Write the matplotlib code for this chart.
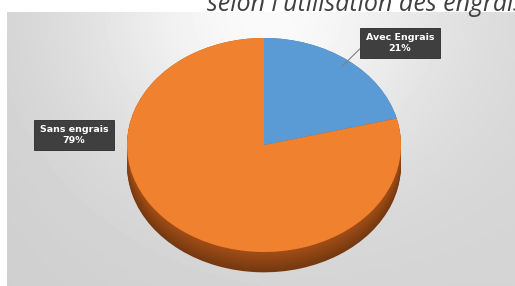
import matplotlib
matplotlib.use('Agg')
import matplotlib.pyplot as plt
import numpy as np

labels = ['Avec Engrais', 'Sans engrais']
shares = [21, 79]
top_colors = ['#5B9BD5', '#F0822F']
side_colors = ['#2F6BA8', '#A34E16']
title = "selon l'utilisation des engrais"

W, H = 515, 286
fig = plt.figure(figsize=(W / 100, H / 100), dpi=100)
fig.patch.set_facecolor('white')

# grey gradient panel behind the chart
bg = fig.add_axes([7 / W, 0, (W - 7) / W, (H - 12) / H])
yy, xx = np.mgrid[0:274, 0:508]
shade = 0.81 + 0.02 * xx / 508 + 0.16 * np.exp(-((xx - 255) / 190.0) ** 2 - (yy / 170.0) ** 2)
bg.imshow(np.clip(shade, 0, 1), cmap='gray', vmin=0, vmax=1, aspect='auto')
bg.axis('off')

# pie axes: radius 1 -> 137 px wide, 107 px tall
cx, cy, rx, ry = 264, 145, 137, 107
depth = 0.19
ax = fig.add_axes([(cx - rx) / W, (H - cy - (1 + depth + 0.02) * ry) / H,
                   2 * rx / W, (2 + depth + 0.02) * ry / H])

# side of the 3d pie: stacked copies, dark at the bottom
steps = np.linspace(depth, 0.0, 14)
for k, d in enumerate(steps):
    f = 0.72 + 0.28 * k / (len(steps) - 1)
    cols = []
    for c in side_colors:
        rgb = np.array(matplotlib.colors.to_rgb(c)) * f
        cols.append(np.clip(rgb, 0, 1))
    ax.pie(shares, colors=cols, startangle=90, counterclock=False,
           center=(0, -d), radius=1)

wedges, _ = ax.pie(shares, colors=top_colors, startangle=90, counterclock=False,
                   center=(0, 0), radius=1)
ax.set_xlim(-1, 1)
ax.set_ylim(-1 - depth - 0.02, 1)
ax.set_aspect('auto')
ax.axis('off')

box = dict(boxstyle='square,pad=0.6', fc='#3F3F3F', ec='#2a2a2a', lw=0.6)
mid = np.deg2rad(90 - shares[0] * 3.6 / 2)
ax.annotate(f'{labels[0]}\n{shares[0]}%', xy=(0.93 * np.cos(mid), 0.93 * np.sin(mid)),
            xytext=(400 / W, 1 - 43 / H), textcoords='figure fraction',
            ha='center', va='center', color='white', fontsize=6.8, fontweight='bold',
            bbox=box, arrowprops=dict(arrowstyle='-', color='#808080', lw=0.8,
                                      shrinkA=0, shrinkB=0, relpos=(0, 0.5)))
fig.text(74 / W, 1 - 135 / H, f'{labels[1]}\n{shares[1]}%', ha='center', va='center',
         color='white', fontsize=6.8, fontweight='bold', bbox=box)

# title is partly cut off by the top and right edges, as in the original
fig.text(207 / W, 1 - 11 / H, title, fontsize=18, style='italic',
         color='#404040', family=['Open Sans', 'DejaVu Sans'], va='baseline', ha='left')

fig.savefig('out.png', dpi=100)
